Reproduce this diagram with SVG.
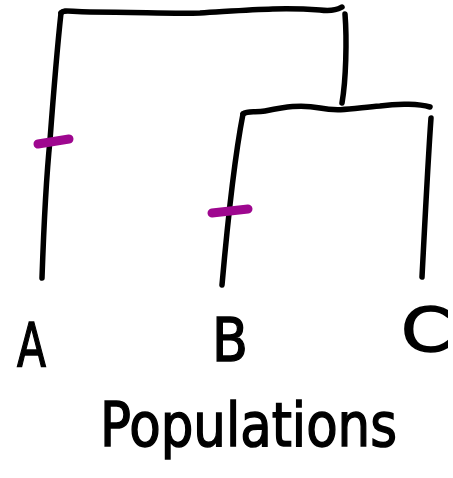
<svg xmlns="http://www.w3.org/2000/svg" width="453" height="478" viewBox="0 0 453 478">
<style>
.ln{fill:none;stroke:#000;stroke-width:5.5;stroke-linecap:round;stroke-linejoin:round}
.mk{fill:none;stroke:#9e078f;stroke-width:9;stroke-linecap:round}
.t{font-family:"DejaVu Sans","Liberation Sans",sans-serif;fill:#000;stroke:#000;stroke-width:1.5}
</style>
<rect width="453" height="478" fill="#fff"/>
<g id="connectors">
<path class="ln" d="M42,278 C44,220 47,170 50,140 C53,100 57,50 61,13"/>
<path class="ln" d="M61,13 C64,9 70,12 90,12 C140,12 170,14 200,13 C250,10 280,7 320,10 C335,12 340,8 342,7"/>
<path class="ln" d="M345,14 C347,40 346,80 342,103"/>
<path class="ln" d="M222,285 C226,240 234,160 243,114"/>
<path class="ln" d="M243,114 C248,110 255,113 265,111 C285,107 300,104 320,108 C340,112 355,108 380,106 C400,103 420,104 430,107"/>
<path class="ln" d="M431,118 C428,160 425,220 422,277"/>
</g>
<g id="marks">
<path class="mk" d="M38,144 L69,139"/>
<path class="mk" d="M212,213 L248,209"/>
</g>
<g id="node-A"><text class="t" x="17" y="366" font-size="60" textLength="29" lengthAdjust="spacingAndGlyphs">A</text></g>
<g id="node-B"><text class="t" x="212" y="361" font-size="60" textLength="36" lengthAdjust="spacingAndGlyphs">B</text></g>
<g id="node-C"><text class="t" x="401" y="351" font-size="60" textLength="50" lengthAdjust="spacingAndGlyphs">C</text></g>
<g id="label"><text class="t" x="100" y="446" font-size="60" textLength="297" lengthAdjust="spacingAndGlyphs">Populations</text></g>
</svg>
